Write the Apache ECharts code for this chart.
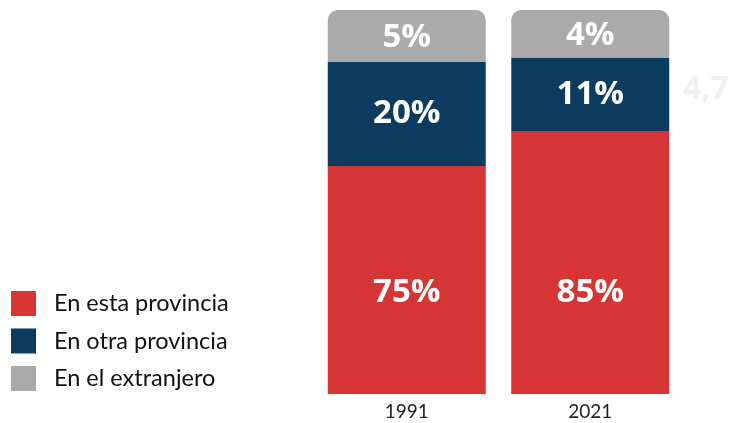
<!DOCTYPE html>
<html>
<head>
<meta charset="utf-8">
<script src="https://cdn.jsdelivr.net/npm/echarts@6/dist/echarts.min.js"></script>
<style>
  html, body { margin: 0; padding: 0; background: #fff; }
  #chart { width: 729px; height: 423px; }
</style>
</head>
<body>
<div id="chart"></div>
<script>
// años
const years = ['1991', '2021']
// alturas de los tramos tal como se ven en la imagen (no a escala de la etiqueta)
const estaProvincia = [59.4, 68.5]
const otraProvincia = [27.1, 19.0]
const extranjero = [13.5, 12.5]
// etiquetas que muestra el gráfico
const estaLabels = ['75%', '85%']
const otraLabels = ['20%', '11%']
const extLabels = ['5%', '4%']

const FONT = 'Lato'
const LABEL_FONT = 'Open Sans'

function labelData (values, labels) {
    return values.map(function (v, i) {
        return { value: v, label: { formatter: labels[i] } }
    })
}

const myChart = echarts.init(document.getElementById('chart'))

let baseLabel = {
    show: true,
    color: '#fff',
    fontFamily: LABEL_FONT,
    fontWeight: 'bold',
    fontSize: 33
}

let option = {
    animation: false,
    grid: {
        left: 315,
        right: 47,
        top: 10,
        bottom: 29
    },
    legend: {
        orient: 'vertical',
        left: 11,
        top: 291,
        padding: 0,
        icon: 'rect',
        itemWidth: 25,
        itemHeight: 25,
        itemGap: 12.5,
        selectedMode: false,
        textStyle: {
            fontFamily: FONT,
            fontSize: 23.5,
            color: '#111',
            padding: [0, 0, 0, 13]
        },
        data: ['En esta provincia', 'En otra provincia', 'En el extranjero']
    },
    xAxis: {
        type: 'category',
        data: years,
        axisLine: { show: false },
        axisTick: { show: false },
        axisLabel: {
            fontFamily: FONT,
            fontSize: 19,
            color: '#222',
            margin: 8
        }
    },
    yAxis: {
        type: 'value',
        min: 0,
        max: 100,
        show: false
    },
    graphic: [{
        type: 'text',
        left: 683,
        top: 74,
        style: {
            text: '4,7',
            fontFamily: LABEL_FONT,
            fontWeight: 'bold',
            fontSize: 32,
            fill: '#f0f0f0'
        }
    }],
    series: [
        {
            name: 'En esta provincia',
            type: 'bar',
            stack: 'total',
            barWidth: 158,
            itemStyle: { color: '#d63535' },
            label: Object.assign({}, baseLabel, {
                position: ['50%', '100%'],
                offset: [0, -101],
                align: 'center',
                verticalAlign: 'middle'
            }),
            data: labelData(estaProvincia, estaLabels)
        },
        {
            name: 'En otra provincia',
            type: 'bar',
            stack: 'total',
            itemStyle: { color: '#0b3c5f' },
            label: Object.assign({}, baseLabel, { position: 'inside' }),
            data: labelData(otraProvincia, otraLabels)
        },
        {
            name: 'En el extranjero',
            type: 'bar',
            stack: 'total',
            itemStyle: { color: '#aaaaaa', borderRadius: [10, 10, 0, 0] },
            label: Object.assign({}, baseLabel, { position: 'inside', offset: [0, 2] }),
            data: labelData(extranjero, extLabels)
        }
    ]
}
option && myChart.setOption(option)
</script>
</body>
</html>
